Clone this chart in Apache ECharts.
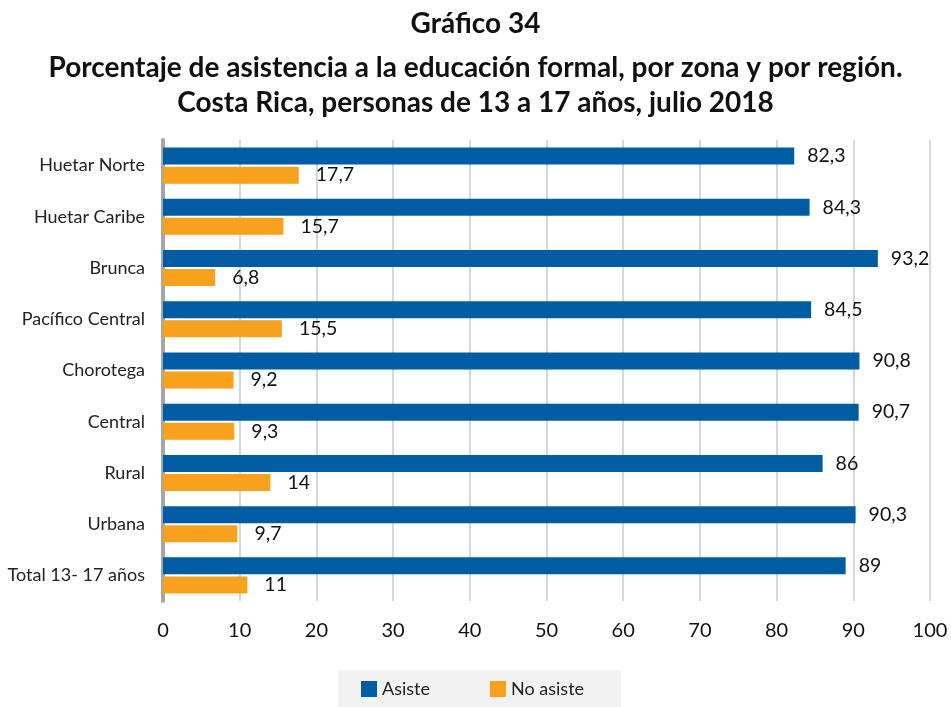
<!DOCTYPE html>
<html>
<head>
<meta charset="utf-8">
<script src="https://cdn.jsdelivr.net/npm/echarts@6/dist/echarts.min.js"></script>
<style>
  html, body { margin: 0; padding: 0; background: #fff; }
  #chart { width: 951px; height: 707px; }
</style>
</head>
<body>
<div id="chart"></div>
<script>
// Regions and zones, top to bottom
const categories = ['Huetar Norte', 'Huetar Caribe', 'Brunca', 'Pacífico Central', 'Chorotega', 'Central', 'Rural', 'Urbana', 'Total 13- 17 años'];
// Percentage attending formal education
const asiste = [82.3, 84.3, 93.2, 84.5, 90.8, 90.7, 86, 90.3, 89];
// Percentage not attending
const noAsiste = [17.7, 15.7, 6.8, 15.5, 9.2, 9.3, 14, 9.7, 11];
const xTicks = [0, 10, 20, 30, 40, 50, 60, 70, 80, 90, 100];

const chart = echarts.init(document.getElementById('chart'));
const fmt = p => String(p.value).replace('.', ',');
const titleStyle = { fontFamily: 'Lato', fontWeight: 'bold', fontSize: 28, color: '#111' };

chart.setOption({
  animation: false,
  title: [
    { text: 'Gráfico 34', left: 'center', top: 5, textStyle: titleStyle },
    { text: 'Porcentaje de asistencia a la educación formal, por zona y por región.', left: 'center', top: 49, textStyle: titleStyle },
    { text: 'Costa Rica, personas de 13 a 17 años, julio 2018', left: 'center', top: 84, textStyle: titleStyle }
  ],
  grid: { left: 163, right: 21, top: 140, bottom: 106, containLabel: false },
  legend: {
    data: ['Asiste', 'No asiste'],
    left: 338, top: 670,
    backgroundColor: '#f2f2f2',
    padding: [10, 37, 10, 23],
    itemWidth: 16, itemHeight: 16, itemGap: 60,
    icon: 'rect',
    textStyle: { fontFamily: 'Lato', fontSize: 18, color: '#222' }
  },
  xAxis: {
    type: 'value', min: xTicks[0], max: xTicks[xTicks.length - 1], interval: 10,
    axisLine: { show: false }, axisTick: { show: false },
    axisLabel: { fontFamily: 'Lato', fontSize: 20, color: '#111', margin: 20 },
    splitLine: { lineStyle: { color: '#c8c8c8', width: 1.5 } }
  },
  yAxis: {
    type: 'category', data: categories, inverse: true,
    axisLine: { lineStyle: { color: '#a6a6a6', width: 4 } },
    axisTick: { show: false },
    axisLabel: { fontFamily: 'Lato', fontSize: 18, color: '#222', margin: 18 }
  },
  series: [
    {
      name: 'Asiste', type: 'bar', data: asiste, barWidth: 17, barGap: '12%',
      itemStyle: { color: '#005da4' },
      label: { show: true, position: 'right', distance: 13, formatter: fmt, fontFamily: 'Lato', fontSize: 19.5, color: '#111' }
    },
    {
      name: 'No asiste', type: 'bar', data: noAsiste, barWidth: 17,
      itemStyle: { color: '#f7a11c' },
      label: { show: true, position: 'right', distance: 17, formatter: fmt, fontFamily: 'Lato', fontSize: 19.5, color: '#111' }
    }
  ]
});
</script>
</body>
</html>
